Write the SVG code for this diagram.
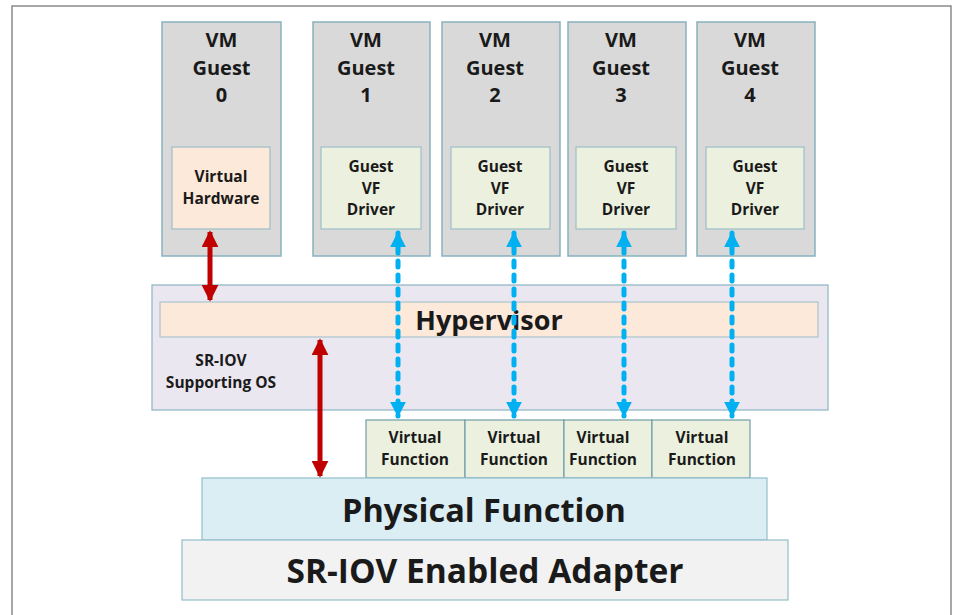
<svg xmlns="http://www.w3.org/2000/svg" width="956" height="615" viewBox="0 0 956 615">
<defs>
<style>
text{font-family:"Open Sans",Lato,"Liberation Sans",sans-serif;font-weight:bold;fill:#1a1a1a;text-anchor:middle}
.vm{fill:#d9d9d9;stroke:#86b1bf;stroke-width:1.5}
.drv{fill:#ebf1de;stroke:#9dbfc8;stroke-width:1.2}
.hw{fill:#fde9d9;stroke:#9dbfc8;stroke-width:1.2}
.t20{font-size:20px}
.t15{font-size:15.5px}
.vf{fill:#ebf1de;stroke:#6f9ea8;stroke-width:1.2}
.red{stroke:#c00000;stroke-width:5;fill:none}
.blue{stroke:#00b0f0;stroke-width:5;fill:none;stroke-dasharray:6 8;stroke-linecap:round}
</style>
<marker id="rh" viewBox="0 0 10 10" refX="9" refY="5" markerWidth="3.4" markerHeight="3.4" orient="auto-start-reverse" markerUnits="strokeWidth"><path d="M0,0L10,5L0,10z" fill="#c00000"/></marker>
<marker id="bh" viewBox="0 0 10 10" refX="9" refY="5" markerWidth="3.2" markerHeight="3.2" orient="auto-start-reverse" markerUnits="strokeWidth"><path d="M0,0L10,5L0,10z" fill="#00b0f0"/></marker>
</defs>
<rect x="0" y="0" width="956" height="615" fill="#fff"/>
<path d="M12,620V6H951V620" fill="none" stroke="#8a8a8a" stroke-width="1.5"/>

<g id="vm0"><rect class="vm" x="162" y="22" width="119" height="234"/>
<text class="t20" x="221.5" y="47">VM</text><text class="t20" x="221.5" y="74.5">Guest</text><text class="t20" x="221.5" y="102">0</text>
<rect class="hw" x="172" y="147" width="98" height="82"/>
<text class="t15" x="221" y="182">Virtual</text><text class="t15" x="221" y="204">Hardware</text></g>

<g id="vm1"><rect class="vm" x="313" y="22" width="117" height="234"/>
<text class="t20" x="366" y="47">VM</text><text class="t20" x="366" y="74.5">Guest</text><text class="t20" x="366" y="102">1</text>
<rect class="drv" x="321" y="147" width="100" height="82"/>
<text class="t15" x="371" y="172">Guest</text><text class="t15" x="371" y="193.5">VF</text><text class="t15" x="371" y="215">Driver</text></g>

<g id="vm2"><rect class="vm" x="442" y="22" width="118" height="234"/>
<text class="t20" x="495" y="47">VM</text><text class="t20" x="495" y="74.5">Guest</text><text class="t20" x="495" y="102">2</text>
<rect class="drv" x="451" y="147" width="99" height="82"/>
<text class="t15" x="500" y="172">Guest</text><text class="t15" x="500" y="193.5">VF</text><text class="t15" x="500" y="215">Driver</text></g>

<g id="vm3"><rect class="vm" x="568" y="22" width="118" height="234"/>
<text class="t20" x="621" y="47">VM</text><text class="t20" x="621" y="74.5">Guest</text><text class="t20" x="621" y="102">3</text>
<rect class="drv" x="576" y="147" width="100" height="82"/>
<text class="t15" x="626" y="172">Guest</text><text class="t15" x="626" y="193.5">VF</text><text class="t15" x="626" y="215">Driver</text></g>

<g id="vm4"><rect class="vm" x="697" y="22" width="118" height="234"/>
<text class="t20" x="750" y="47">VM</text><text class="t20" x="750" y="74.5">Guest</text><text class="t20" x="750" y="102">4</text>
<rect class="drv" x="706" y="147" width="98" height="82"/>
<text class="t15" x="755" y="172">Guest</text><text class="t15" x="755" y="193.5">VF</text><text class="t15" x="755" y="215">Driver</text></g>

<g id="os"><rect x="152" y="285" width="676" height="125" fill="#eae7f1" stroke="#93b8c6" stroke-width="1.3"/>
<text class="t15" x="221" y="366">SR-IOV</text><text class="t15" x="221" y="388">Supporting OS</text></g>

<g id="hypervisor"><rect x="160" y="302" width="658" height="35" fill="#fce9da" stroke="#a9c5cf" stroke-width="1.2"/>
<text x="489" y="330" style="font-size:27px">Hypervisor</text></g>

<g id="vf1"><rect class="vf" x="366" y="420" width="99" height="58"/><text class="t15" x="415" y="443">Virtual</text><text class="t15" x="415" y="465">Function</text></g>
<g id="vf2"><rect class="vf" x="465" y="420" width="99" height="58"/><text class="t15" x="514" y="443">Virtual</text><text class="t15" x="514" y="465">Function</text></g>
<g id="vf3"><rect class="vf" x="564" y="420" width="88" height="58"/><text class="t15" x="603" y="443">Virtual</text><text class="t15" x="603" y="465">Function</text></g>
<g id="vf4"><rect class="vf" x="652" y="420" width="98" height="58"/><text class="t15" x="702" y="443">Virtual</text><text class="t15" x="702" y="465">Function</text></g>

<g id="pf"><rect x="202" y="478" width="565" height="62" fill="#dbeef4" stroke="#93bfcc" stroke-width="1.2"/>
<text x="484" y="522" style="font-size:32.5px">Physical Function</text></g>

<g id="adapter"><rect x="182" y="540" width="606" height="60" fill="#f2f2f2" stroke="#93bfcc" stroke-width="1.2"/>
<text x="485" y="583" style="font-size:33.5px">SR-IOV Enabled Adapter</text></g>

<g id="connectors">
<line class="red" x1="210" y1="232" x2="210" y2="300" marker-start="url(#rh)" marker-end="url(#rh)"/>
<line class="red" x1="320" y1="340" x2="320" y2="476" marker-start="url(#rh)" marker-end="url(#rh)"/>
<line class="blue" x1="398" y1="233" x2="398" y2="416" marker-start="url(#bh)" marker-end="url(#bh)"/>
<line class="blue" x1="514" y1="233" x2="514" y2="416" marker-start="url(#bh)" marker-end="url(#bh)"/>
<line class="blue" x1="624" y1="233" x2="624" y2="416" marker-start="url(#bh)" marker-end="url(#bh)"/>
<line class="blue" x1="732" y1="233" x2="732" y2="416" marker-start="url(#bh)" marker-end="url(#bh)"/>
</g>
</svg>
